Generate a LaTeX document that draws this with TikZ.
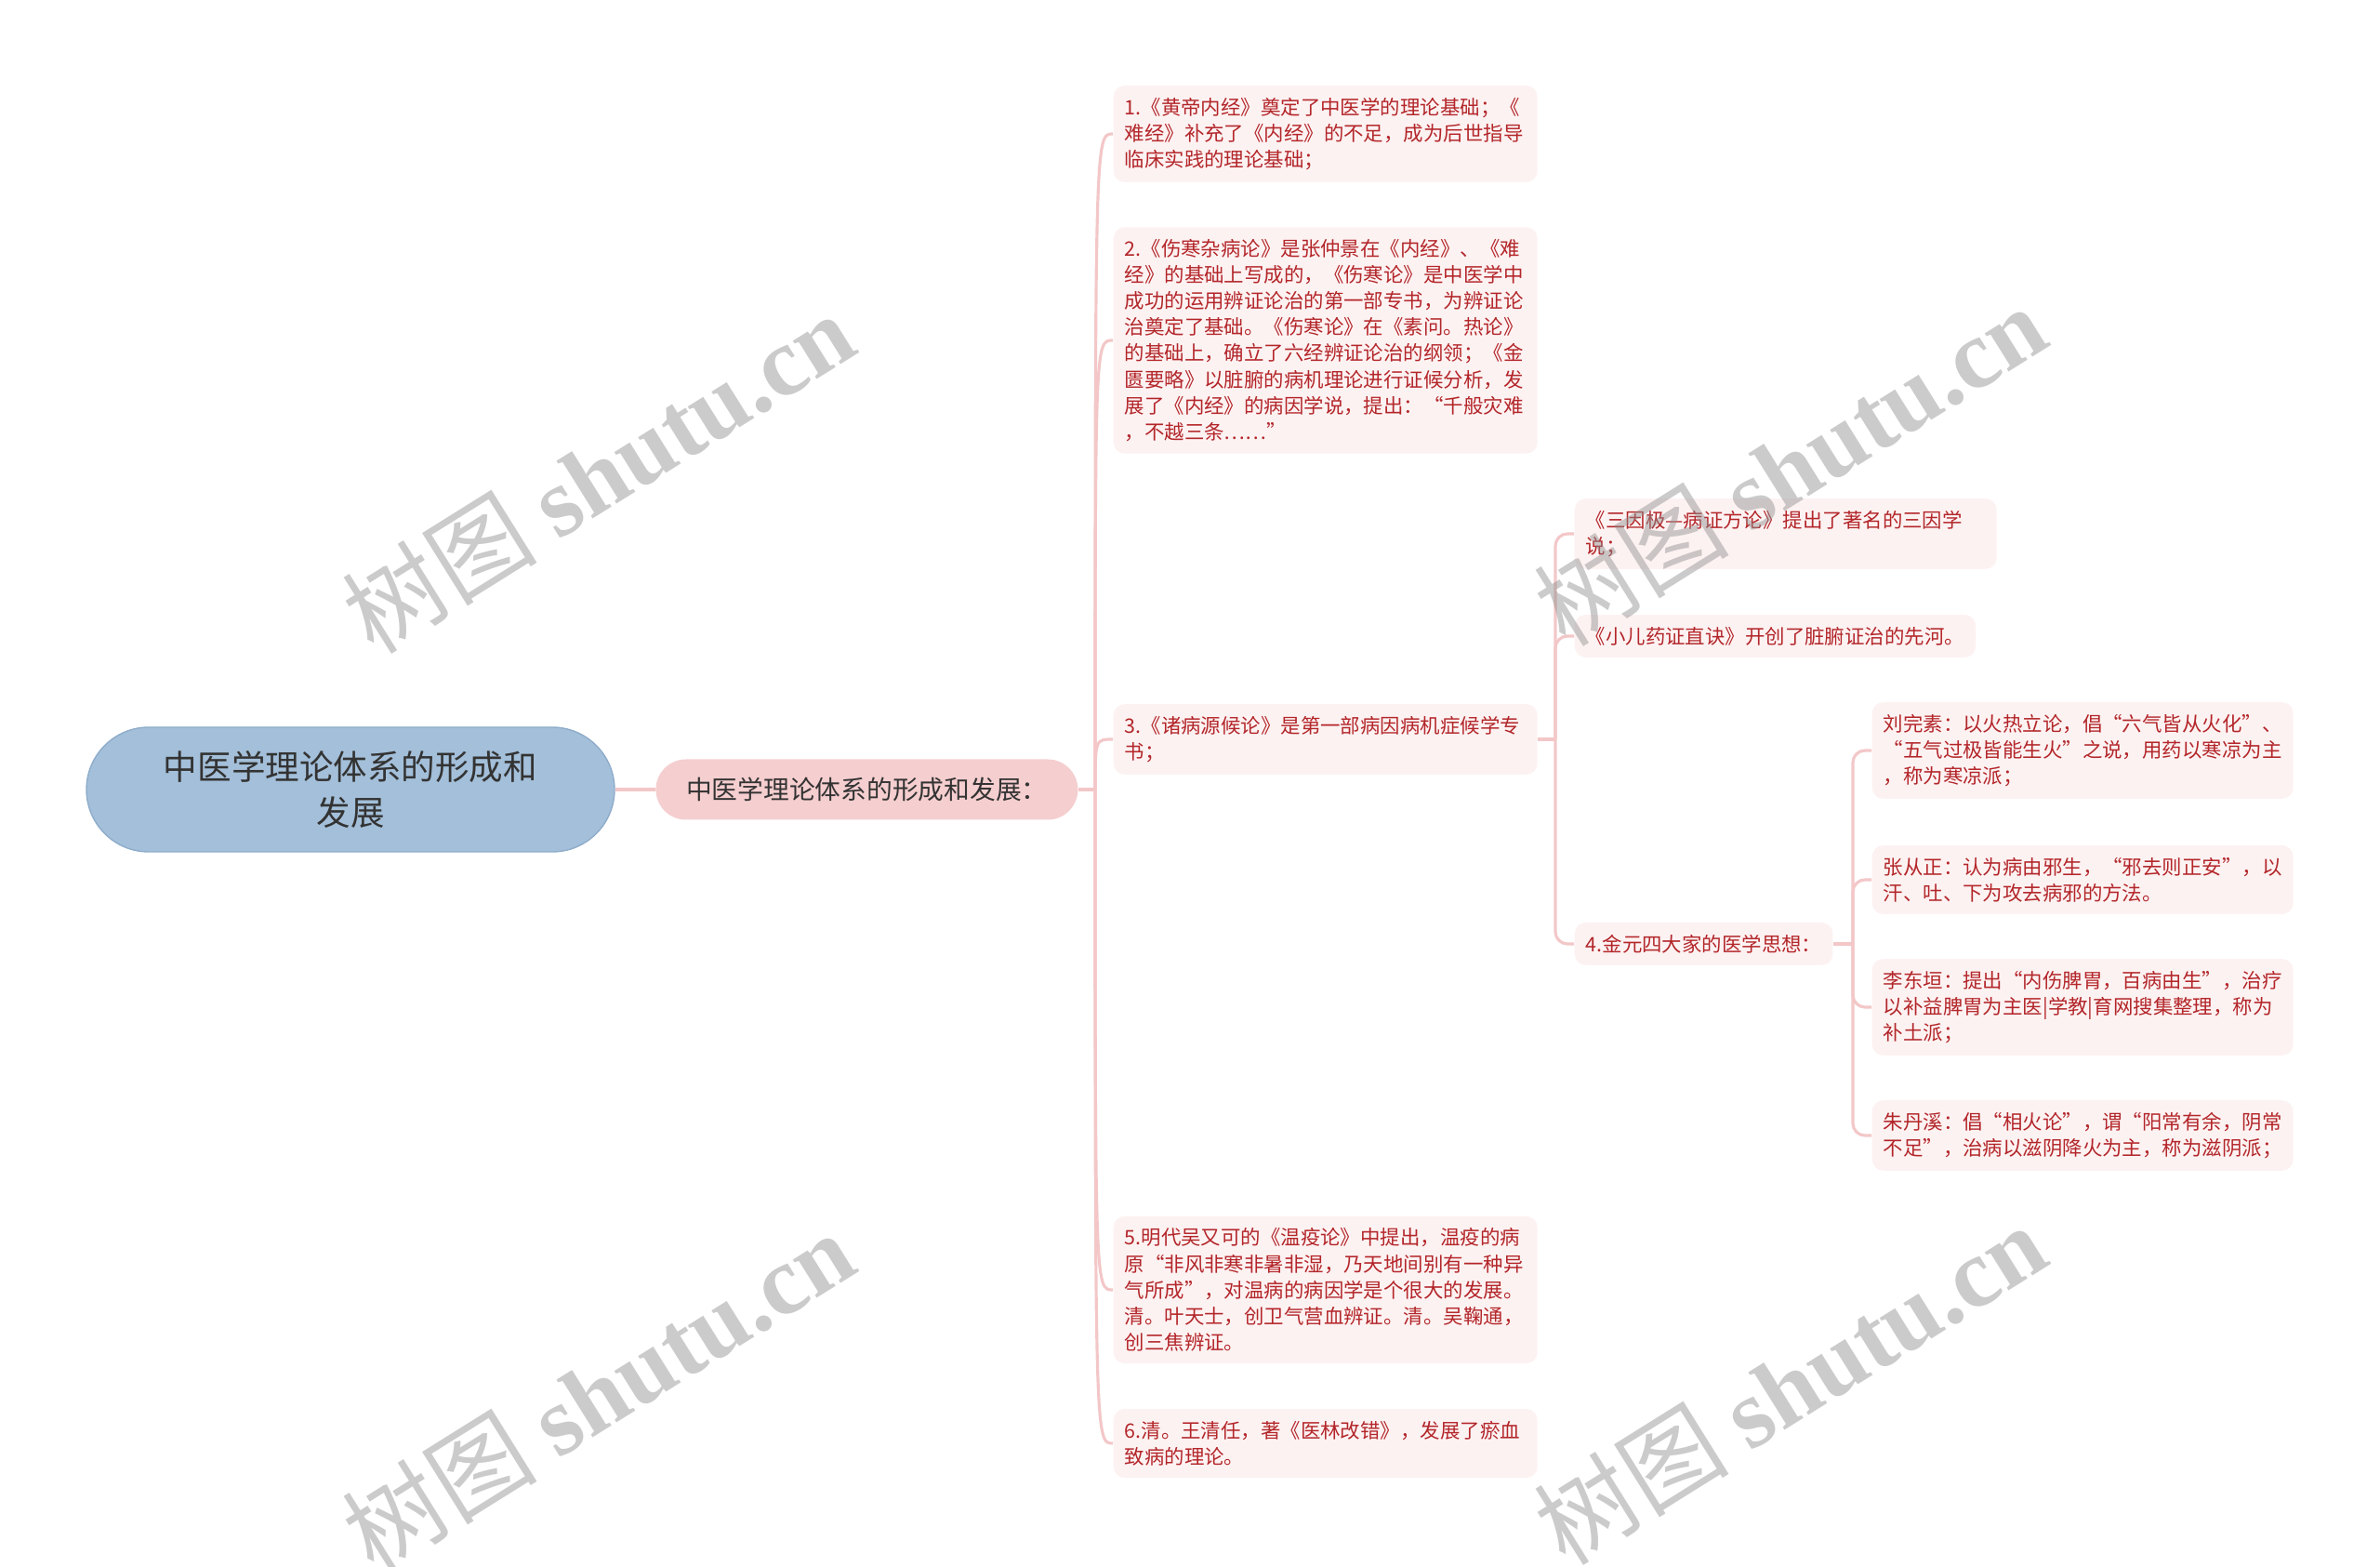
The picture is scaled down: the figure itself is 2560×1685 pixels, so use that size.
\documentclass[tikz,border=0pt]{standalone}
\usepackage{fontspec}
\setmainfont{Noto Sans CJK SC}
\newfontfamily\wmserif{Liberation Serif}
\usepackage{xcolor}
\usetikzlibrary{positioning}
\definecolor{rootblue}{HTML}{A3BFD9}
\definecolor{rootline}{HTML}{8FADCB}
\definecolor{subpink}{HTML}{F5CECF}
\definecolor{leaffill}{HTML}{FDF2F2}
\definecolor{leafred}{HTML}{B3262A}
\definecolor{linkpink}{HTML}{F3C7C8}
\definecolor{darktext}{HTML}{333333}

\begin{document}
\begin{tikzpicture}[x=0.1mm,y=-0.1mm,
    link/.style={draw=linkpink,line width=0.9pt},
    leaf/.style={fill=leaffill,text=leafred,rounded corners=1.2mm,inner xsep=1.2mm,inner ysep=1.3mm,
      align=left,anchor=west,font=\fontsize{6.1pt}{8pt}\selectfont},
    wm/.style={rotate=32,text=black!45,text opacity=0.45,font=\fontsize{30pt}{30pt}\selectfont}]
    \useasboundingbox (0,0) rectangle (2560,1685);
    % Raiz e subtitulo
    \node[draw=rootline,fill=rootblue,text=darktext,rounded corners=6.7mm,minimum width=56.8mm,minimum height=13.4mm,
      align=center,font=\fontsize{10.4pt}{14pt}\selectfont] (root) at (377,849) {中医学理论体系的形成和\\发展};
    \node[fill=subpink,text=darktext,rounded corners=3.25mm,minimum width=45.4mm,minimum height=6.5mm,
      font=\fontsize{7.9pt}{9pt}\selectfont,right=4.3mm of root] (sub) {中医学理论体系的形成和发展：};
    % Primeiro nivel
    \node[leaf,text width=43.2mm] (n1) at (1197,144) {1.《黄帝内经》奠定了中医学的理论基础；《\\难经》补充了《内经》的不足，成为后世指导\\临床实践的理论基础；};
    \node[leaf,text width=43.2mm] (n2) at (1197,366) {2.《伤寒杂病论》是张仲景在《内经》、《难\\经》的基础上写成的，《伤寒论》是中医学中\\成功的运用辨证论治的第一部专书，为辨证论\\治奠定了基础。《伤寒论》在《素问。热论》\\的基础上，确立了六经辨证论治的纲领；《金\\匮要略》以脏腑的病机理论进行证候分析，发\\展了《内经》的病因学说，提出：“千般灾难\\，不越三条……”};
    \node[leaf,text width=43.2mm] (n3) at (1197,795) {3.《诸病源候论》是第一部病因病机症候学专\\书；};
    \node[leaf,text width=43.2mm] (n5) at (1197,1387) {5.明代吴又可的《温疫论》中提出，温疫的病\\原“非风非寒非暑非湿，乃天地间别有一种异\\气所成”，对温病的病因学是个很大的发展。\\清。叶天士，创卫气营血辨证。清。吴鞠通，\\创三焦辨证。};
    \node[leaf,text width=43.2mm] (n6) at (1197,1552) {6.清。王清任，著《医林改错》，发展了瘀血\\致病的理论。};
    % Segundo nivel (filhos de 3)
    \node[leaf,text width=43mm] (s1) at (1693,574) {《三因极—病证方论》提出了著名的三因学\\说；};
    \node[leaf] (s2) at (1693,684) {《小儿药证直诀》开创了脏腑证治的先河。};
    \node[leaf] (n4) at (1693,1015) {4.金元四大家的医学思想：};
    % Terceiro nivel (filhos de 4)
    \node[leaf,text width=42.9mm] (m1) at (2013,807) {刘完素：以火热立论，倡“六气皆从火化”、\\“五气过极皆能生火”之说，用药以寒凉为主\\，称为寒凉派；};
    \node[leaf,text width=42.9mm] (m2) at (2013,946) {张从正：认为病由邪生，“邪去则正安”，以\\汗、吐、下为攻去病邪的方法。};
    \node[leaf,text width=42.9mm] (m3) at (2013,1083) {李东垣：提出“内伤脾胃，百病由生”，治疗\\以补益脾胃为主医|学教|育网搜集整理，称为\\补土派；};
    \node[leaf,text width=42.9mm] (m4) at (2013,1221) {朱丹溪：倡“相火论”，谓“阳常有余，阴常\\不足”，治病以滋阴降火为主，称为滋阴派；};
    % Ligacoes
    \draw[link] (root) -- (sub);
    \coordinate (j1) at (1178,849);
    \draw[link] (sub.east) -- (j1);
    \foreach \n in {n1,n2,n3,n5,n6} {\draw[link] (j1) .. controls (j1 |- \n.west) .. (\n.west);}
    \coordinate (j2) at (1673,795);
    \draw[link] (n3.east) -- (j2);
    \foreach \n in {s1,s2,n4} {\draw[link,rounded corners=1.3mm] (j2) |- (\n.west);}
    \coordinate (j3) at (1993,1015);
    \draw[link] (n4.east) -- (j3);
    \foreach \n in {m1,m2,m3,m4} {\draw[link,rounded corners=1.3mm] (j3) |- (\n.west);}
    % Marcas d'agua
    \foreach \p/\q [count=\i] in {643/508,1925/500,643/1496,1925/1488}
      {\node[wm] (wm\i) at (\p,\q) {树图 {\wmserif\bfseries shutu.cn}};}
\end{tikzpicture}
\end{document}
